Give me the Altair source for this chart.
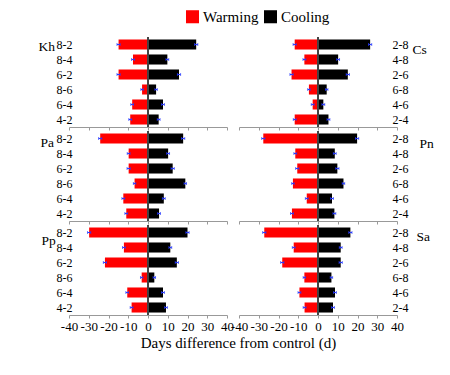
import altair as alt
import pandas as pd

FONT = "Liberation Serif"

pairs_left = ["8-2", "8-4", "6-2", "8-6", "6-4", "4-2"]
pairs_right = ["2-8", "4-8", "2-6", "6-8", "4-6", "2-4"]

species_left = ["Kh", "Pa", "Pp"]
species_right = ["Cs", "Pn", "Sa"]

warming_kh = [-14.9, -7.6, -14.9, -3.0, -8.0, -9.0]
cooling_kh = [24.4, 9.8, 15.7, 4.1, 7.6, 5.4]
warming_pa = [-24.2, -9.8, -9.8, -6.8, -12.5, -11.0]
cooling_pa = [17.8, 10.2, 12.5, 18.9, 8.0, 5.6]
warming_pp = [-29.8, -12.2, -21.8, -3.2, -10.5, -8.3]
cooling_pp = [20.0, 11.3, 14.6, 3.2, 7.6, 9.1]
warming_cs = [-11.8, -6.9, -13.4, -4.6, -2.7, -11.8]
cooling_cs = [26.4, 10.2, 15.1, 4.4, 2.7, 5.3]
warming_pn = [-27.7, -11.5, -10.5, -12.7, -5.7, -13.2]
cooling_pn = [19.8, 8.5, 9.8, 12.9, 7.1, 8.3]
warming_sa = [-27.2, -12.3, -18.1, -6.9, -9.4, -6.8]
cooling_sa = [16.4, 11.5, 11.5, 6.8, 8.6, 7.6]

err_warming = [0.8, 0.7, 0.8, 0.6, 0.7, 0.7]
err_cooling = [0.8, 0.7, 0.8, 0.6, 0.7, 0.7]

tick_values = [-40, -30, -20, -10, 0, 10, 20, 30, 40]

series = {
    "Kh": (warming_kh, cooling_kh),
    "Pa": (warming_pa, cooling_pa),
    "Pp": (warming_pp, cooling_pp),
    "Cs": (warming_cs, cooling_cs),
    "Pn": (warming_pn, cooling_pn),
    "Sa": (warming_sa, cooling_sa),
}

rows = []
for sp, (w, c) in series.items():
    pairs = pairs_left if sp in species_left else pairs_right
    for i, p in enumerate(pairs):
        rows.append(dict(species=sp, pair=p, type="Warming", value=w[i],
                         lo=w[i] - err_warming[i], hi=w[i] + err_warming[i]))
        rows.append(dict(species=sp, pair=p, type="Cooling", value=c[i],
                         lo=c[i] - err_cooling[i], hi=c[i] + err_cooling[i]))
df = pd.DataFrame(rows)

color = alt.Color(
    "type:N",
    scale=alt.Scale(domain=["Warming", "Cooling"], range=["#ff0000", "#000000"]),
    legend=alt.Legend(
        title=None, orient="none", direction="horizontal", legendX=116, legendY=-28,
        symbolType="square", symbolSize=170, symbolStrokeWidth=0, symbolOpacity=1,
        labelFont=FONT, labelFontSize=15, labelColor="#000", columnPadding=4, labelOffset=3,
    ),
)

xscale = alt.Scale(domain=[-40, 40], nice=False)
title_y = {"Kh": 13, "Pa": 15, "Pp": 19, "Cs": 16, "Pn": 16, "Sa": 15}
title_x = {"Kh": -31, "Pa": -29, "Pp": -28, "Cs": 15, "Pn": 22, "Sa": 19}


def panel(sp, pairs, side, bottom):
    d = df[df.species == sp]
    common = dict(title=sp, titleAngle=0, titleFont=FONT, titleFontSize=13.5, titleColor="#000",
                  titleFontWeight="normal", titleAlign="left", titleBaseline="alphabetic",
                  titleX=title_x[sp], titleY=title_y[sp], labelFont=FONT, labelFontSize=12,
                  labelColor="#000", domain=False, ticks=False)
    if side == "left":
        yaxis = alt.Axis(orient="left", labelPadding=-3, **common)
    else:
        yaxis = alt.Axis(orient="right", labelPadding=-5, **common)
    yscale = alt.Scale(paddingInner=0.33, paddingOuter=0.165)
    y = alt.Y("pair:N", sort=pairs, scale=yscale, axis=yaxis)
    xkw = dict(values=tick_values, grid=False, domainColor="#999", tickColor="#999",
               tickSize=3, labelFont=FONT, labelFontSize=13, labelColor="#000",
               labelFlush=False, labelOverlap=False, labels=bottom, labelPadding=2,
               labelExpr="datum.value < 0 ? '-' + abs(datum.value) : '' + datum.value")
    if bottom and side == "left":
        xaxis = alt.Axis(title="Days difference from control (d)", titleFont=FONT, titleFontSize=15,
                         titleFontWeight="normal", titleColor="#000", titleX=169, titleY=32,
                         titleAlign="center", titleBaseline="alphabetic", **xkw)
    else:
        xaxis = alt.Axis(title=None, **xkw)
    bars = alt.Chart(d).mark_bar().encode(
        x=alt.X("value:Q", scale=xscale, axis=xaxis), y=y, color=color)
    zero = alt.Chart(d).mark_rule(color="#444", strokeWidth=0.8).encode(
        x=alt.X(datum=0, scale=xscale, axis=xaxis))
    err = alt.Chart(d).mark_rule(color="#2a3cff", strokeWidth=1).encode(
        x=alt.X("lo:Q", scale=xscale, axis=xaxis), x2="hi:Q", y=y)
    cap_lo = alt.Chart(d).mark_tick(color="#2a3cff", size=3, thickness=1).encode(
        x=alt.X("lo:Q", scale=xscale, axis=xaxis), y=y)
    cap_hi = alt.Chart(d).mark_tick(color="#2a3cff", size=3, thickness=1).encode(
        x=alt.X("hi:Q", scale=xscale, axis=xaxis), y=y)
    return alt.layer(bars, zero, err, cap_lo, cap_hi).properties(width=158, height=90)


panels = []
for i in range(3):
    panels.append(panel(species_left[i], pairs_left, "left", i == 2))
    panels.append(panel(species_right[i], pairs_right, "right", i == 2))

chart = alt.concat(*panels, columns=2, spacing=alt.RowColnumber(row=4, column=12), bounds="flush").properties(
    padding={"left": 38, "top": 9, "right": 5, "bottom": 5},
).configure_view(stroke=None)

chart.save("out.html", embed_options={"renderer": "svg", "actions": False})
